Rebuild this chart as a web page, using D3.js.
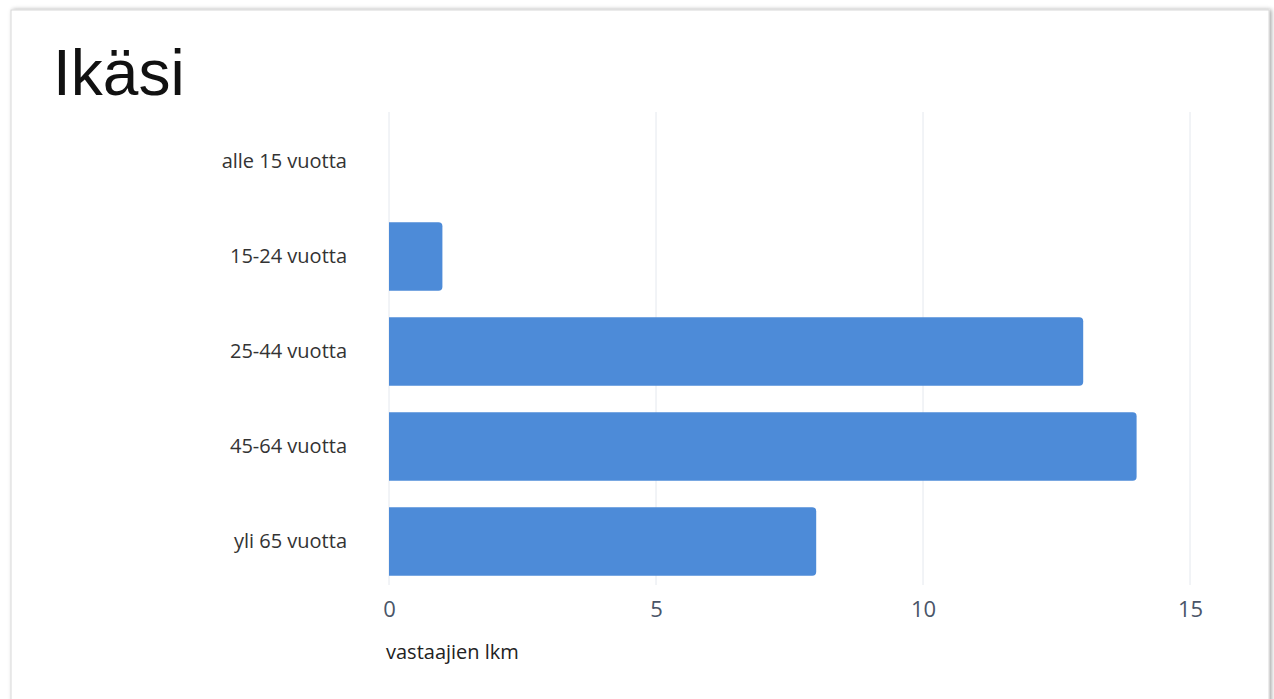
<!DOCTYPE html>
<html>
<head>
<meta charset="utf-8">
<script src="https://cdn.jsdelivr.net/npm/d3@7"></script>
<style>
  body { margin: 0; background: #fff; }
</style>
</head>
<body>
<svg id="chart" width="1274" height="699"></svg>
<script>
// categories and respondent counts
const categories = ["alle 15 vuotta", "15-24 vuotta", "25-44 vuotta", "45-64 vuotta", "yli 65 vuotta"];
const counts = [0, 1, 13, 14, 8];
const xTicks = [0, 5, 10, 15];

const svg = d3.select("#chart");

// card background with shadow
const defs = svg.append("defs");
const f = defs.append("filter").attr("id", "shadow").attr("x", "-5%").attr("y", "-5%").attr("width", "110%").attr("height", "110%");
f.append("feDropShadow").attr("dx", 2).attr("dy", 0).attr("stdDeviation", 2).attr("flood-color", "#000").attr("flood-opacity", 0.35);

svg.append("rect")
  .attr("x", 11).attr("y", 10)
  .attr("width", 1258).attr("height", 720)
  .attr("fill", "#fff")
  .attr("stroke", "#d8d8d8")
  .attr("filter", "url(#shadow)");

svg.append("text")
  .text("Ikäsi")
  .attr("x", 53).attr("y", 95)
  .style("font-family", "Liberation Sans, Arial, sans-serif")
  .style("font-size", "64px")
  .style("fill", "#111");

// scales
const xScale = d3.scaleLinear().domain([0, 15]).range([389, 1190]);
const yScale = d3.scaleBand().domain(categories).range([114, 589]).paddingInner(0.28).paddingOuter(0.14);

// grid lines
svg.append("g").selectAll("line")
  .data(xTicks)
  .enter().append("line")
  .attr("x1", d => xScale(d)).attr("x2", d => xScale(d))
  .attr("y1", 112).attr("y2", 585)
  .attr("stroke", "#e4e8ee").attr("stroke-width", 1);

// x axis
const xAxis = d3.axisBottom(xScale).tickValues(xTicks).tickSize(0).tickPadding(0);
const gx = svg.append("g").attr("transform", "translate(0,601)").call(xAxis);
gx.select(".domain").remove();
gx.selectAll("text")
  .attr("dy", "0.71em")
  .style("font-family", "Open Sans, sans-serif")
  .style("font-size", "22px")
  .style("fill", "#4a5568");

// y axis
const yAxis = d3.axisLeft(yScale).tickSize(0).tickPadding(0);
const gy = svg.append("g").attr("transform", "translate(347,0)").call(yAxis);
gy.select(".domain").remove();
gy.selectAll("text")
  .style("font-family", "Open Sans, sans-serif")
  .style("font-size", "20px")
  .style("fill", "#333");

// bars with rounded right end
const r = 4;
svg.append("g").selectAll("path")
  .data(counts.map((v, i) => ({ c: categories[i], v: v })).filter(d => d.v > 0))
  .enter().append("path")
  .attr("d", d => {
    const x0 = xScale(0), x1 = xScale(d.v);
    const y0 = yScale(d.c), y1 = y0 + yScale.bandwidth();
    return `M${x0},${y0}H${x1 - r}Q${x1},${y0} ${x1},${y0 + r}V${y1 - r}Q${x1},${y1} ${x1 - r},${y1}H${x0}Z`;
  })
  .attr("fill", "#4d8bd8");

// axis title
svg.append("text")
  .text("vastaajien lkm")
  .attr("x", 386).attr("y", 659)
  .style("font-family", "Open Sans, sans-serif")
  .style("font-size", "20px")
  .style("fill", "#222");
</script>
</body>
</html>
